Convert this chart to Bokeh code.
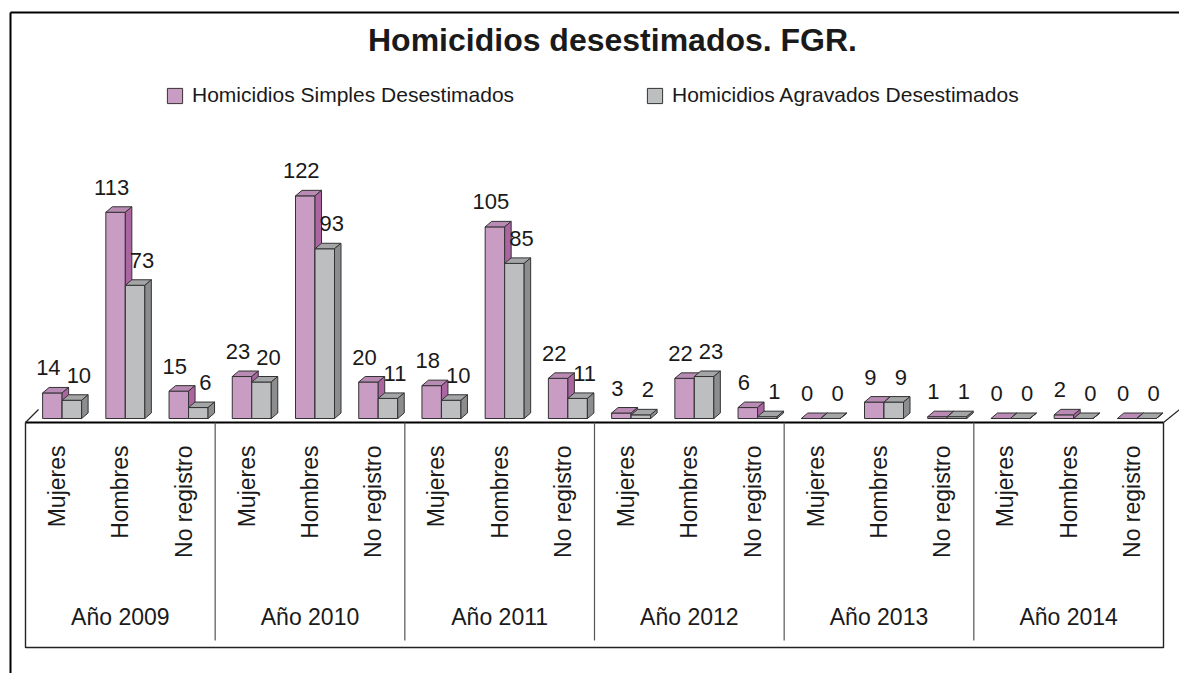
from bokeh.plotting import figure
from bokeh.models import Range1d, Label, Legend, LegendItem, ColumnDataSource
from bokeh.core.properties import value
from bokeh.embed import file_html
from bokeh.resources import INLINE

# ---------------- data ----------------
title_text = "Homicidios desestimados. FGR."
years = ["Año 2009", "Año 2010", "Año 2011", "Año 2012", "Año 2013", "Año 2014"]
categories = ["Mujeres", "Hombres", "No registro"]
series_names = ["Homicidios Simples Desestimados", "Homicidios Agravados Desestimados"]
simples = [14, 113, 15, 23, 122, 20, 18, 105, 22, 3, 22, 6, 0, 9, 1, 0, 2, 0]
agravados = [10, 73, 6, 20, 93, 11, 10, 85, 11, 2, 23, 1, 0, 9, 1, 0, 0, 0]

# ---------------- layout (canvas pixels) ----------------
W, H = 1179, 673
N = len(years) * len(categories)
X0 = 25.0            # canvas x where the category band starts
CAT_PX = 1138.0 / N  # width of one category
Y0 = 418.0           # canvas y of value 0
VAL_PX = 1.825       # pixels per unit

def cx(px):
    return (px - X0) / CAT_PX

def cy(py):
    return (Y0 - py) / VAL_PX

def dxp(px):
    return px / CAT_PX

def dyp(py):
    return py / VAL_PX

p = figure(width=W, height=H, x_range=Range1d(cx(0), cx(W)), y_range=Range1d(cy(H), cy(0)),
           output_backend="svg", toolbar_location=None, min_border=0,
           x_axis_type=None, y_axis_type=None)
p.grid.visible = False
p.outline_line_color = None
p.background_fill_color = "white"
p.border_fill_color = "white"

FONT = "Liberation Sans"
OUT = "#333333"
TXT = "#1a1a1a"

# ---------------- outer frame ----------------
p.segment(x0=[cx(10), cx(10)], y0=[cy(12), cy(12)], x1=[cx(10), cx(W)], y1=[cy(H), cy(12)],
          line_color="black", line_width=2)

# ---------------- floor & table ----------------
floor_v = cy(422)
p.segment(x0=[0], y0=[floor_v], x1=[N], y1=[floor_v], line_color="black", line_width=2.2)
p.segment(x0=[0, N], y0=[floor_v, floor_v], x1=[dxp(13), N + dxp(16)], y1=[floor_v + dyp(13)] * 2,
          line_color="#222222", line_width=1.2)
bottom_v = cy(647)
p.multi_line(xs=[[0, 0, N, N]], ys=[[floor_v, bottom_v, bottom_v, floor_v]],
             line_color="#222222", line_width=1.4)
ng = len(categories)
div_x = [ng * k for k in range(1, len(years))]
p.segment(x0=div_x, y0=[floor_v] * len(div_x), x1=div_x, y1=[cy(640)] * len(div_x),
          line_color="#555555", line_width=1.2)

# category labels (rotated) and year labels
cat_x = [i + 0.5 for i in range(N)]
cat_t = [categories[i % ng] for i in range(N)]
p.text(x=cat_x, y=[cy(445)] * N, text=cat_t, angle=1.5707963, text_align="right",
       text_baseline="middle", text_font=value(FONT), text_font_size="23px", text_color=TXT)
yr_x = [ng * k + ng / 2 for k in range(len(years))]
p.text(x=yr_x, y=[cy(616)] * len(years), text=years, text_align="center",
       text_baseline="middle", text_font=value(FONT), text_font_size="23px", text_color=TXT)

# ---------------- 3D bars ----------------
BAR_W = dxp(19.5)
SHIFT = dxp(5)
DX, DY = dxp(6.5), dyp(5.5)
pair_c = [i + 0.5 + SHIFT for i in range(N)]


def draw_series(lefts, vals, front, top, side):
    xs_t, ys_t, xs_s, ys_s = [], [], [], []
    for l, v in zip(lefts, vals):
        r = l + BAR_W
        xs_t.append([l, r, r + DX, l + DX])
        ys_t.append([v, v, v + DY, v + DY])
        xs_s.append([r, r + DX, r + DX, r])
        ys_s.append([0, DY, v + DY, v])
    q = p.quad(left=lefts, right=[l + BAR_W for l in lefts], bottom=[0] * len(vals), top=vals,
               fill_color=front, line_color=OUT, line_width=1)
    p.patches(xs=xs_t, ys=ys_t, fill_color=top, line_color=OUT, line_width=1)
    p.patches(xs=xs_s, ys=ys_s, fill_color=side, line_color=OUT, line_width=1)
    return q


pink_left = [c - BAR_W for c in pair_c]
gray_left = list(pair_c)
q1 = draw_series(pink_left, simples, "#c99cc4", "#b98ab3", "#ab66a2")
q2 = draw_series(gray_left, agravados, "#bdbec0", "#a4a5a7", "#8c8d8f")

# value labels
lab1 = ColumnDataSource(dict(x=[l + BAR_W / 2 for l in pink_left], y=simples, t=[str(v) for v in simples]))
lab2 = ColumnDataSource(dict(x=[l + BAR_W / 2 for l in gray_left], y=agravados, t=[str(v) for v in agravados]))
for src, xo in ((lab1, -4), (lab2, 7)):
    p.text(x="x", y="y", text="t", source=src, x_offset=xo, y_offset=-25, text_align="center",
           text_baseline="middle", text_font=value(FONT), text_font_size="22px",
           text_color=TXT)

# ---------------- title ----------------
p.add_layout(Label(x=cx(612), y=cy(39), text=title_text, text_align="center", text_baseline="middle",
                   text_font=FONT, text_font_size="32px", text_font_style="bold", text_color=TXT))

# ---------------- legend ----------------
for item_x, name, rend in ((165, series_names[0], q1), (645, series_names[1], q2)):
    lg = Legend(items=[LegendItem(label=name, renderers=[rend])], location=(item_x, H - 107),
                orientation="horizontal", padding=0, margin=0, border_line_color=None,
                background_fill_alpha=0, glyph_width=19, glyph_height=19, label_standoff=8,
                label_text_font=FONT, label_text_font_size="21px", label_text_color=TXT,
                label_height=19, label_text_baseline="middle")
    p.add_layout(lg)

open("out.html", "w").write(file_html(p, INLINE))
